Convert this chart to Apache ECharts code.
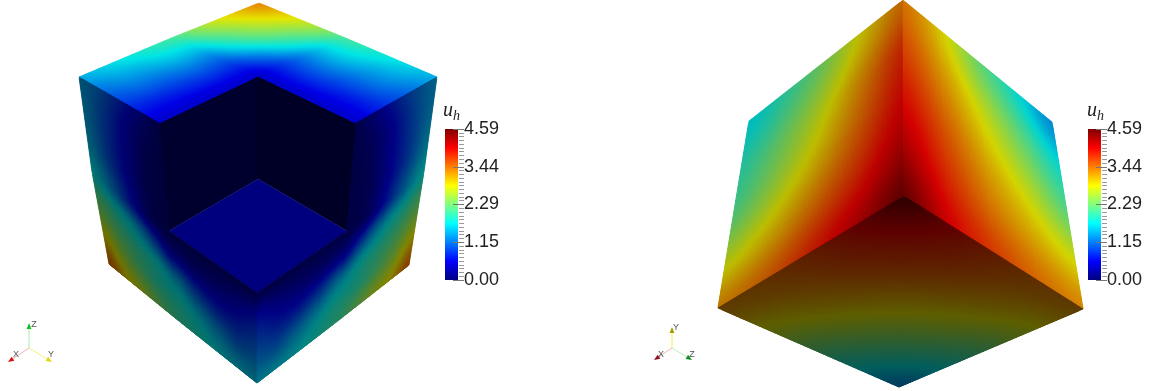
<!DOCTYPE html>
<html>
<head>
<meta charset="utf-8">
<style>
  html, body { margin: 0; padding: 0; background: #fff; }
  #chart { width: 1151px; height: 391px; }
</style>
<script src="https://cdn.jsdelivr.net/npm/echarts@6/dist/echarts.min.js"></script>
</head>
<body>
<div id="chart"></div>
<script>
// colour bar
const barTickLabels = ['0.00', '1.15', '2.29', '3.44', '4.59'];
const barRange = [0, 4.59];

// corner points, in the units of the hidden scene axes
const B = [259, 3], R = [437, 77], L = [79, 77], C = [258, 76];
const M1 = [348, 39], M2 = [169, 39], E1 = [356, 123], E2 = [159, 123];
const floorBack = [258, 179], floorRight = [347, 231], floorLeft = [169, 231], floorFront = [257, 293];
const lowLeft = [109, 264], lowRight = [409, 265], front = [257, 383];
const midLeft = [92, 172], midRight = [424, 172], botLeft = [179, 321], botRight = [335, 323];

const T2 = [903, 0], C2 = [904, 196], UL2 = [749, 121], UR2 = [1052, 122];
const LL2 = [718, 308], LR2 = [1083, 309], B2 = [899, 387];

// u_h on each face
const topBack = [
  [3.35, 3.05, 2.75, 2.40, 2.05],
  [3.05, 2.80, 2.45, 2.05, 1.65],
  [2.75, 2.45, 2.10, 1.65, 1.20],
  [2.40, 2.05, 1.65, 1.15, 0.80],
  [2.05, 1.65, 1.20, 0.80, 0.45]
];
const topRight = [
  [2.05, 1.90, 1.75, 1.60, 1.45],
  [1.65, 1.60, 1.45, 1.35, 1.20],
  [1.20, 1.20, 1.10, 1.05, 0.95],
  [0.80, 0.80, 0.75, 0.70, 0.70],
  [0.45, 0.45, 0.45, 0.45, 0.45]
];
const topLeft = [
  [2.05, 1.90, 1.75, 1.60, 1.45],
  [1.65, 1.60, 1.45, 1.35, 1.20],
  [1.20, 1.20, 1.10, 1.05, 0.95],
  [0.80, 0.80, 0.75, 0.70, 0.70],
  [0.45, 0.45, 0.45, 0.45, 0.45]
];
const sideUpper = [
  [1.40, 1.15, 0.80, 0.40, 0.05],
  [1.40, 1.05, 0.60, 0.22, 0.03],
  [1.45, 1.00, 0.55, 0.15, 0.02],
  [1.55, 1.05, 0.55, 0.13, 0.02],
  [1.75, 1.30, 0.70, 0.15, 0.02]
];
const sideLower = [
  [1.75, 1.30, 0.70, 0.15, 0.02],
  [2.15, 1.85, 1.50, 1.00, 0.45],
  [2.55, 2.20, 1.95, 1.75, 1.40],
  [3.05, 2.55, 2.20, 1.95, 1.85],
  [3.50, 2.95, 2.65, 2.30, 2.00]
];
const sideFront = [
  [0.02, 0.02, 0.02, 0.02, 0.02],
  [0.45, 0.30, 0.30, 0.40, 0.60],
  [1.40, 1.00, 0.75, 0.75, 0.95],
  [1.85, 1.60, 1.35, 1.15, 1.25],
  [2.00, 1.85, 1.70, 1.60, 1.55]
];
const innerFace = [[0.02, 0.02], [0.02, 0.02]];
const floorFace = [[0, 0], [0, 0]];

const wallLeft = [
  [3.40, 3.80, 4.00, 4.25, 4.59],
  [2.95, 3.30, 3.55, 3.85, 4.20],
  [2.40, 2.75, 3.05, 3.45, 3.85],
  [2.00, 2.30, 2.60, 3.05, 3.50],
  [1.70, 1.95, 2.20, 2.75, 3.30]
];
const wallRight = [
  [3.40, 2.95, 2.30, 1.80, 1.30],
  [3.65, 3.25, 2.75, 2.25, 1.80],
  [3.95, 3.55, 3.10, 2.70, 2.25],
  [4.25, 3.80, 3.40, 3.10, 2.85],
  [4.59, 4.05, 3.70, 3.45, 3.30]
];
const wallBottom = [
  [4.59, 4.05, 3.70, 3.45, 3.30],
  [4.05, 3.80, 3.50, 3.15, 2.85],
  [3.70, 3.50, 3.10, 2.70, 2.30],
  [3.45, 3.15, 2.70, 2.20, 1.80],
  [3.30, 2.85, 2.30, 1.80, 1.30]
];

// corners go a -> b along a row, a -> d down a column
const patches = [
  { corners: [C, E2, floorLeft, floorBack], values: innerFace, shade: 0.36 },
  { corners: [C, E1, floorRight, floorBack], values: innerFace, shade: 0.3 },
  { corners: [floorBack, floorRight, floorFront, floorLeft], values: floorFace, shade: 1 },
  { corners: [B, M1, C, M2], values: topBack, shade: 0.9 },
  { corners: [M1, R, E1, C], values: topRight, shade: 0.9 },
  { corners: [M2, L, E2, C], values: topLeft, shade: 0.9 },
  { corners: [L, E2, floorLeft, midLeft], values: sideUpper, shade: 0.45 },
  { corners: [midLeft, floorLeft, botLeft, lowLeft], values: sideLower, shade: 0.45 },
  { corners: [floorLeft, floorFront, front, botLeft], values: sideFront, shade: 0.45 },
  { corners: [R, E1, floorRight, midRight], values: sideUpper, shade: 0.52 },
  { corners: [midRight, floorRight, botRight, lowRight], values: sideLower, shade: 0.52 },
  { corners: [floorRight, floorFront, front, botRight], values: sideFront, shade: 0.52 },
  { corners: [T2, C2, LL2, UL2], values: wallLeft, shade: 0.74 },
  { corners: [T2, UR2, LR2, C2], values: wallRight, shade: 0.83 },
  { corners: [C2, LR2, B2, LL2], values: wallBottom, shade: 0.37 }
];

// orientation triads: start, tip, line colour, head colour, label, label position
const triads = [
  { from: [29, 348], to: [29, 323], line: '#a8f0a8', head: '#10c020', label: 'Z', at: [34, 325] },
  { from: [29, 348], to: [8, 362], line: '#f5b0b0', head: '#d81010', label: 'X', at: [16, 355] },
  { from: [29, 348], to: [52, 362], line: '#f5f080', head: '#e0d810', label: 'Y', at: [51, 355] },
  { from: [672, 348], to: [672, 327], line: '#f0f040', head: '#a89a00', label: 'Y', at: [676, 328] },
  { from: [672, 348], to: [654, 360], line: '#f5b8b8', head: '#901020', label: 'X', at: [661, 355] },
  { from: [672, 348], to: [692, 360], line: '#b8f5b8', head: '#109020', label: 'Z', at: [692, 355] }
];

const jetStops = [
  [0, [0, 0, 127]],
  [0.125, [0, 0, 255]],
  [0.375, [0, 255, 255]],
  [0.625, [255, 255, 0]],
  [0.875, [255, 0, 0]],
  [1, [127, 0, 0]]
];

function jet(v, shade) {
  const t = Math.max(0, Math.min(1, v / barRange[1]));
  let i = 0;
  while (i < jetStops.length - 2 && t > jetStops[i + 1][0]) i++;
  const f = (t - jetStops[i][0]) / (jetStops[i + 1][0] - jetStops[i][0]);
  const c = jetStops[i][1].map((a, k) => (a + (jetStops[i + 1][1][k] - a) * f) * shade);
  return 'rgb(' + c.map(Math.round).join(',') + ')';
}

function patchPoint(corners, s, t) {
  const [a, b, c, d] = corners;
  return [0, 1].map(k =>
    a[k] * (1 - s) * (1 - t) + b[k] * s * (1 - t) + c[k] * s * t + d[k] * (1 - s) * t);
}

// Catmull-Rom between four neighbours, used only for shading inside a cell
function spline(p0, p1, p2, p3, x) {
  return p1 + 0.5 * x * (p2 - p0 + x * (2 * p0 - 5 * p1 + 4 * p2 - p3 + x * (3 * (p1 - p2) + p3 - p0)));
}

function shadeValue(values, r, c, y, x) {
  const at = (i, j) => values[Math.max(0, Math.min(values.length - 1, i))][Math.max(0, Math.min(values[0].length - 1, j))];
  const rows = [-1, 0, 1, 2].map(k =>
    spline(at(r + k, c - 1), at(r + k, c), at(r + k, c + 1), at(r + k, c + 2), x));
  return spline(rows[0], rows[1], rows[2], rows[3], y);
}

// one data item per cell of read values
const cellData = [];
patches.forEach((p, index) => {
  for (let r = 0; r < p.values.length - 1; r++) {
    for (let c = 0; c < p.values[r].length - 1; c++) {
      cellData.push([index, r, c, p.values[r][c]]);
    }
  }
});

const SHADE_STEPS = 12;

function renderCell(params, api) {
  const index = api.value(0), r = api.value(1), c = api.value(2);
  const patch = patches[index];
  const rows = patch.values.length - 1;
  const cols = patch.values[0].length - 1;
  // a flat face needs only one polygon
  const steps = rows === 1 ? 1 : SHADE_STEPS;
  const children = [];
  for (let i = 0; i < steps; i++) {
    for (let j = 0; j < steps; j++) {
      // every quad runs one step further, the next one paints over it
      const s0 = (c + j / steps) / cols, t0 = (r + i / steps) / rows;
      const s1 = Math.min(1, (c + (j + 2) / steps) / cols), t1 = Math.min(1, (r + (i + 2) / steps) / rows);
      const pts = [[s0, t0], [s1, t0], [s1, t1], [s0, t1]].map(q => api.coord(patchPoint(patch.corners, q[0], q[1])));
      const color = jet(shadeValue(patch.values, r, c, (i + 0.5) / steps, (j + 0.5) / steps), patch.shade);
      children.push({
        type: 'polygon',
        shape: { points: pts },
        style: { fill: color, stroke: color, lineWidth: 0.4 }
      });
    }
  }
  return { type: 'group', children: children };
}

function renderTriad(params, api) {
  const t = triads[api.value(0)];
  const a = api.coord(t.from), b = api.coord(t.to);
  const len = Math.hypot(b[0] - a[0], b[1] - a[1]);
  const ux = (b[0] - a[0]) / len, uy = (b[1] - a[1]) / len;
  const base = [b[0] - ux * 6, b[1] - uy * 6];
  const at = api.coord(t.at);
  return {
    type: 'group',
    children: [
      { type: 'line', shape: { x1: a[0], y1: a[1], x2: base[0], y2: base[1] }, style: { stroke: t.line, lineWidth: 1 } },
      {
        type: 'polygon',
        shape: { points: [b, [base[0] - uy * 2.4, base[1] + ux * 2.4], [base[0] + uy * 2.4, base[1] - ux * 2.4]] },
        style: { fill: t.head }
      },
      {
        type: 'text',
        style: { x: at[0], y: at[1], text: t.label, fill: '#555', font: '9px "Liberation Sans"', align: 'center', verticalAlign: 'middle' }
      }
    ]
  };
}

// the bar sits left of the axis, the axis itself runs along the tick ends
function renderBar(params, api) {
  const p0 = api.coord([-19, api.value(1)]);
  const p1 = api.coord([-6, api.value(0)]);
  return {
    type: 'rect',
    shape: { x: p0[0], y: p0[1], width: p1[0] - p0[0], height: p1[1] - p0[1] },
    style: {
      fill: new echarts.graphic.LinearGradient(0, 1, 0, 0,
        jetStops.map(s => ({ offset: s[0], color: 'rgb(' + s[1].join(',') + ')' })))
    }
  };
}

function barAxis(gridIndex) {
  return {
    gridIndex: gridIndex,
    type: 'value',
    position: 'left',
    z: 5,
    min: barRange[0],
    max: barRange[1],
    interval: barRange[1] / 4,
    splitLine: { show: false },
    axisLine: { show: false },
    axisTick: { show: true, length: 11, lineStyle: { color: '#777', width: 1 } },
    minorTick: { show: true, splitNumber: 10, length: 5, lineStyle: { color: '#999', width: 1 } },
    axisLabel: {
      inside: true,
      margin: 0,
      color: '#222',
      fontFamily: 'Liberation Sans',
      fontSize: 18,
      showMinLabel: true,
      showMaxLabel: true,
      formatter: (v) => barTickLabels[Math.round(v / (barRange[1] / 4))]
    }
  };
}

const hiddenBarX = (gridIndex) => ({ gridIndex: gridIndex, type: 'value', min: 0, max: 19, show: false });

const option = {
  animation: false,
  backgroundColor: '#fff',
  title: [438, 1082].map(x => ({
    left: x,
    top: 94,
    text: '{u|u}{h|h}',
    textStyle: {
      rich: {
        u: { fontFamily: 'Liberation Serif', fontStyle: 'italic', fontWeight: 'normal', fontSize: 20, color: '#222' },
        h: { fontFamily: 'Liberation Serif', fontStyle: 'italic', fontWeight: 'normal', fontSize: 14, color: '#222', padding: [10, 0, 0, 0] }
      }
    }
  })),
  grid: [
    { left: 0, top: 0, width: 1151, height: 391 },
    { left: 464, top: 129, width: 19, height: 151 },
    { left: 1107, top: 129, width: 19, height: 151 }
  ],
  xAxis: [
    { gridIndex: 0, type: 'value', min: 0, max: 1151, show: false },
    hiddenBarX(1),
    hiddenBarX(2)
  ],
  yAxis: [
    { gridIndex: 0, type: 'value', min: 0, max: 391, inverse: true, show: false },
    barAxis(1),
    barAxis(2)
  ],
  series: [
    { type: 'custom', xAxisIndex: 0, yAxisIndex: 0, clip: false, silent: true, renderItem: renderCell, data: cellData },
    { type: 'custom', xAxisIndex: 0, yAxisIndex: 0, clip: false, silent: true, renderItem: renderTriad, data: triads.map((t, i) => [i]) },
    { type: 'custom', xAxisIndex: 1, yAxisIndex: 1, clip: false, silent: true, renderItem: renderBar, data: [barRange] },
    { type: 'custom', xAxisIndex: 2, yAxisIndex: 2, clip: false, silent: true, renderItem: renderBar, data: [barRange] }
  ]
};

const chart = echarts.init(document.getElementById('chart'), null, { renderer: 'canvas' });
chart.setOption(option);
</script>
</body>
</html>
